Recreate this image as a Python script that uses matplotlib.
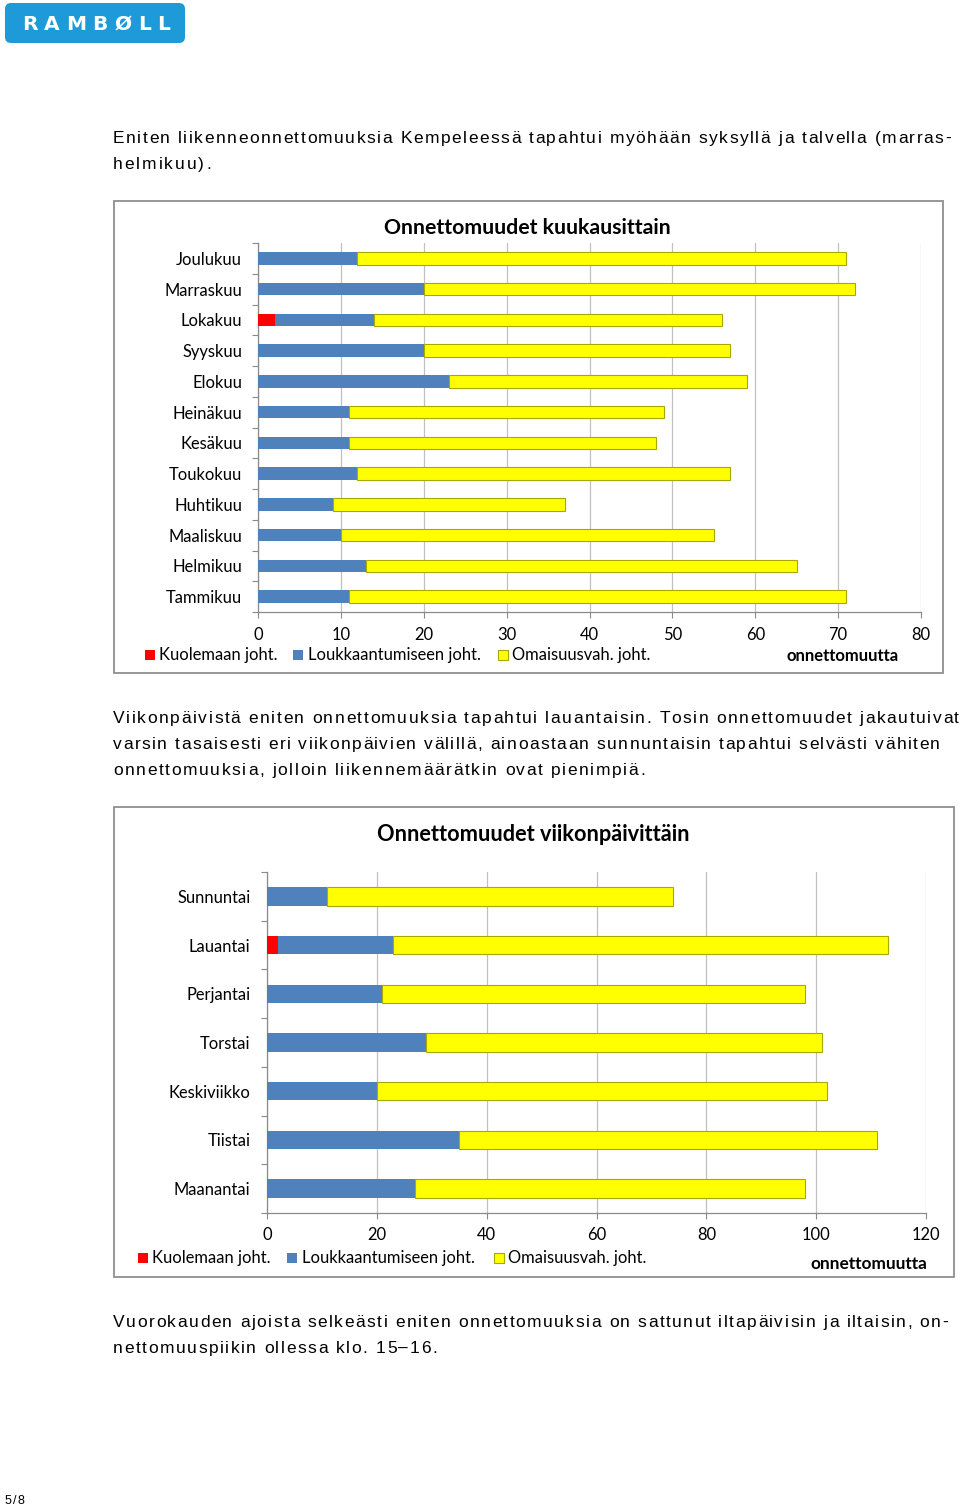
import matplotlib
matplotlib.use('Agg')
import matplotlib.pyplot as plt
from matplotlib.transforms import Affine2D
from matplotlib.patches import Rectangle, FancyBboxPatch
from matplotlib.font_manager import FontProperties
import numpy as np

# ---------------- data ----------------
months = ['Tammikuu', 'Helmikuu', 'Maaliskuu', 'Huhtikuu', 'Toukokuu', 'Kesäkuu',
          'Heinäkuu', 'Elokuu', 'Syyskuu', 'Lokakuu', 'Marraskuu', 'Joulukuu']
m_deaths = [0, 0, 0, 0, 0, 0, 0, 0, 0, 2, 0, 0]
m_injury = [11, 13, 10, 9, 12, 11, 11, 23, 20, 12, 20, 12]
m_property = [60, 52, 45, 28, 45, 37, 38, 36, 37, 42, 52, 59]

days = ['Maanantai', 'Tiistai', 'Keskiviikko', 'Torstai', 'Perjantai', 'Lauantai', 'Sunnuntai']
d_deaths = [0, 0, 0, 0, 0, 2, 0]
d_injury = [27, 35, 20, 29, 21, 21, 11]
d_property = [71, 76, 82, 72, 77, 90, 63]

series_names = ['Kuolemaan joht.', 'Loukkaantumiseen joht.', 'Omaisuusvah. joht.']
x1_ticks = [0, 10, 20, 30, 40, 50, 60, 70, 80]
x2_ticks = [0, 20, 40, 60, 80, 100, 120]

title1 = 'Onnettomuudet kuukausittain'
title2 = 'Onnettomuudet viikonpäivittäin'
unit_label = 'onnettomuutta'

para1 = ['Eniten liikenneonnettomuuksia Kempeleessä tapahtui myöhään syksyllä ja talvella (marras-',
         'helmikuu).']
para2 = ['Viikonpäivistä eniten onnettomuuksia tapahtui lauantaisin. Tosin onnettomuudet jakautuivat',
         'varsin tasaisesti eri viikonpäivien välillä, ainoastaan sunnuntaisin tapahtui selvästi vähiten',
         'onnettomuuksia, jolloin liikennemäärätkin ovat pienimpiä.']
para3 = ['Vuorokauden ajoista selkeästi eniten onnettomuuksia on sattunut iltapäivisin ja iltaisin, on-',
         'nettomuuspiikin ollessa klo. 15–16.']

# ---------------- styles ----------------
RED = '#ff0000'
BLUE = '#4f81bd'
YELLOW = '#ffff00'
YEDGE = '#a8a800'
GRID = '#c0c0c0'
AXC = '#8a8a8a'
CFONT = 'Lato'

W, H = 960, 1508
fig = plt.figure(figsize=(W / 100, H / 100), dpi=100)
fig.patch.set_facecolor('white')
px = Affine2D().scale(1 / W, -1 / H).translate(0, 1) + fig.transFigure
renderer = fig.canvas.get_renderer()


def tw(s, fp):
    return renderer.get_text_width_height_descent(s, fp, ismath=False)[0]


def adv(c, fp):
    return tw('x' + c + 'x', fp) - tw('xx', fp)


def tracked(x, y, s, target=None, tracking=2.0, size=10, family='Liberation Sans',
            weight='normal', color='black'):
    fp = FontProperties(family=family, size=size, weight=weight)
    widths = [adv(c, fp) for c in s]
    if target is not None and len(s) > 1:
        tracking = (target - sum(widths) + widths[-1] - tw(s[-1], fp)) / (len(s) - 1)
    cx = x
    for c, w in zip(s, widths):
        if c != ' ':
            fig.text(cx, y, c, transform=px, fontproperties=fp, color=color,
                     va='baseline', ha='left')
        cx += w + tracking


def fit_size(s, target, family=CFONT, weight='normal', base=10):
    fp = FontProperties(family=family, size=base, weight=weight)
    return base * target / tw(s, fp)


# ---------------- logo ----------------
logo = FancyBboxPatch((5, 3), 180, 40, boxstyle='round,pad=0,rounding_size=6',
                      transform=px, facecolor='#1e9ad9', edgecolor='none')
fig.patches.append(logo)
tracked(22, 30, 'RAMBØLL', target=148, size=14.5, family='DejaVu Sans', weight='bold',
        color='white')

# ---------------- paragraphs ----------------
BODY = 12.5
tracked(113, 143, para1[0], target=838, size=BODY)
tracked(113, 169, para1[1], target=98, size=BODY)
tracked(113, 723, para2[0], target=846, size=BODY)
tracked(113, 749, para2[1], target=827, size=BODY)
tracked(113, 775, para2[2], target=532, size=BODY)
tracked(113, 1327, para3[0], target=835, size=BODY)
tracked(113, 1353, para3[1], target=324, size=BODY)
tracked(5, 1504, '5/8', target=19, size=9)

# ---------------- chart boxes ----------------
for (x0, y0, x1, y1) in [(114, 201, 943, 673), (114, 807, 954, 1277)]:
    r = Rectangle((x0, y0), x1 - x0, y1 - y0, transform=px, facecolor='white',
                  edgecolor='#8f8f8f', linewidth=1.3, zorder=-1)
    fig.patches.append(r)


def stacked(ax, cats, dth, inj, prop, xmax, ticks, bh, labsize, ypad, xpad):
    y = np.arange(len(cats))
    dth = np.array(dth); inj = np.array(inj); prop = np.array(prop)
    ax.barh(y, dth, height=bh, color=RED, zorder=3)
    ax.barh(y, inj, left=dth, height=bh, color=BLUE, zorder=3)
    ax.barh(y, prop, left=dth + inj, height=bh, color=YELLOW, edgecolor=YEDGE,
            linewidth=0.8, zorder=3)
    ax.set_xlim(0, xmax)
    ax.set_ylim(-0.5, len(cats) - 0.5)
    ax.set_facecolor('none')
    ax.set_xticks(ticks)
    ax.set_xticklabels([str(t) for t in ticks], fontsize=labsize, family=CFONT)
    ax.set_yticks(y)
    ax.set_yticklabels(cats, fontsize=labsize, family=CFONT)
    ax.set_yticks(np.arange(-0.5, len(cats), 1.0), minor=True)
    ax.tick_params(axis='y', which='major', length=0, pad=ypad)
    ax.tick_params(axis='y', which='minor', length=4, color=AXC, width=0.8)
    ax.tick_params(axis='x', length=4, color=AXC, width=0.8, pad=xpad)
    ax.xaxis.grid(True, color=GRID, linewidth=0.9, zorder=0)
    ax.set_axisbelow(True)
    for s in ['top', 'right']:
        ax.spines[s].set_visible(False)
    for s in ['left', 'bottom']:
        ax.spines[s].set_color(AXC)
        ax.spines[s].set_linewidth(0.9)


labsize = fit_size('Marraskuu', 78)

ax1 = fig.add_axes([258 / W, 1 - 612 / H, (921 - 258) / W, (612 - 243) / H])
stacked(ax1, months, m_deaths, m_injury, m_property, 80, x1_ticks, 0.4, labsize, 11.5, 7)

ax2 = fig.add_axes([267 / W, 1 - 1213 / H, (926 - 267) / W, (1213 - 872) / H])
stacked(ax2, days, d_deaths, d_injury, d_property, 120, x2_ticks, 0.38, labsize, 12, 6)

# titles
fig.text(527, 234, title1, transform=px, fontsize=fit_size(title1, 287, weight='bold'),
         family=CFONT, weight='bold', ha='center', va='baseline')
fig.text(533, 841, title2, transform=px, fontsize=fit_size(title2, 313, weight='bold'),
         family=CFONT, weight='bold', ha='center', va='baseline')

# legends
colors = [RED, BLUE, YELLOW]
edges = ['none', 'none', YEDGE]


def legend(sq_x, txt_x, yc, unit_x0, unit_x1, unit_y):
    for sx, tx, c, e, name in zip(sq_x, txt_x, colors, edges, series_names):
        fig.patches.append(Rectangle((sx, yc - 5), 10, 10, transform=px, facecolor=c,
                                     edgecolor=e, linewidth=0.8))
        fig.text(tx, yc + 5, name, transform=px, fontsize=labsize, family=CFONT,
                 va='baseline', ha='left')
    fig.text((unit_x0 + unit_x1) / 2, unit_y + 5, unit_label, transform=px,
             fontsize=fit_size(unit_label, unit_x1 - unit_x0, weight='bold'),
             family=CFONT, weight='bold', ha='center', va='baseline')


legend([145, 293, 498], [159, 308, 512], 655, 786, 899, 656)
legend([138, 287, 494], [152, 302, 508], 1258, 810, 927, 1264)

fig.savefig('out.png', dpi=100, facecolor='white')
